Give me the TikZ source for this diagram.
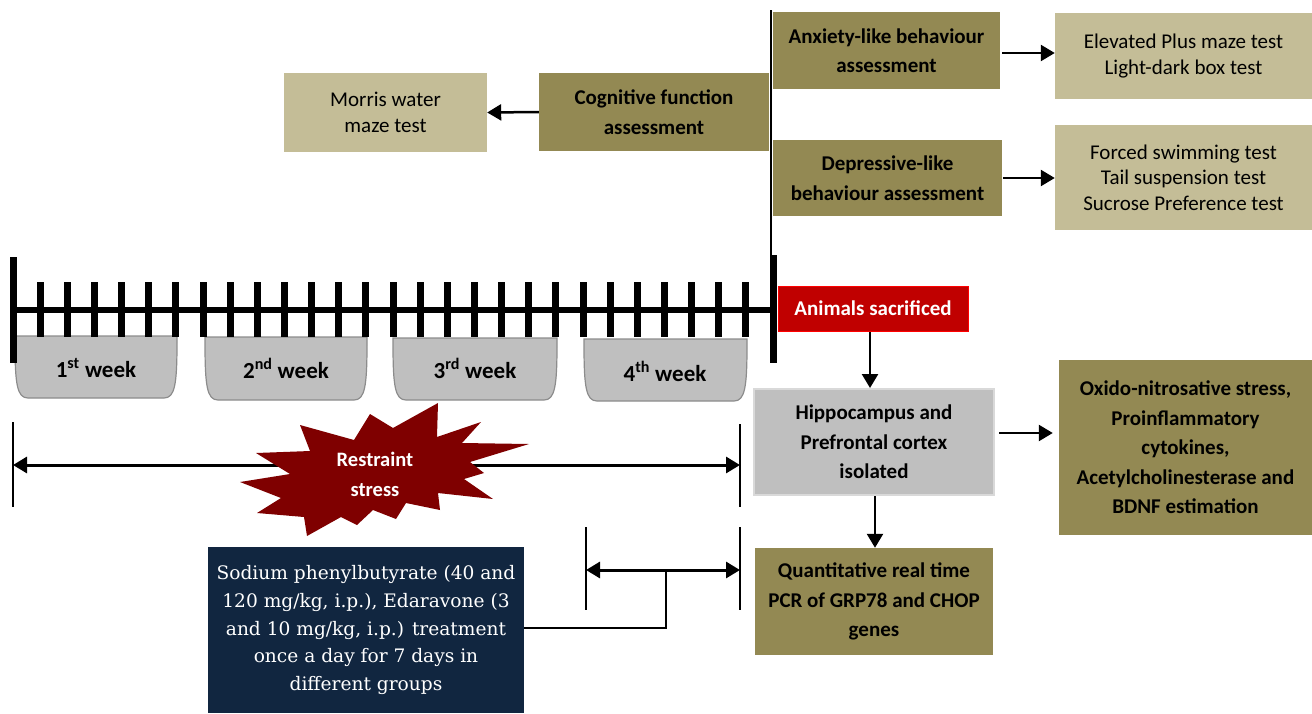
\documentclass[tikz,border=0pt]{standalone}
\usepackage{fontspec}
\setmainfont{Carlito}
\newfontfamily\serifx{DejaVu Serif}
\usetikzlibrary{arrows.meta,calc}
\definecolor{olivec}{RGB}{147,137,83}
\definecolor{tanc}{RGB}{196,189,151}
\definecolor{grayc}{RGB}{191,191,191}
\definecolor{grayline}{RGB}{140,140,140}
\definecolor{lightline}{RGB}{217,217,217}
\definecolor{redc}{RGB}{192,0,0}
\definecolor{starc}{RGB}{127,0,0}
\definecolor{navyc}{RGB}{17,38,64}
\newcommand\wkbox[4]{\path[weekshape] (#1,#3) -- (#1,#3+6) .. controls (#1,#4-14) and (#1+2,#4) .. (#1+13,#4) -- (#2-13,#4) .. controls (#2-2,#4) and (#2,#4-14) .. (#2,#3+6) -- (#2,#3) -- cycle;}
\begin{document}
\begin{tikzpicture}[x=1pt,y=-1pt,
  box/.style={inner sep=0pt, align=center, text=black},
  olivebox/.style={box, fill=olivec, font=\bfseries\fontsize{21}{29.5}\selectfont},
  tanbox/.style={box, fill=tanc, font=\fontsize{21}{25.5}\selectfont},
  weekshape/.style={fill=grayc, draw=grayline, line width=1.2pt},
  wklabel/.style={font=\bfseries\fontsize{23}{26}\selectfont, inner sep=0pt},
  arr/.style={line width=2.5pt, -{Triangle[length=14pt,width=16pt]}},
  dblarr/.style={line width=3pt, {Triangle[length=14pt,width=16pt]}-{Triangle[length=14pt,width=16pt]}},
  thin/.style={line width=1.5pt},
  tl/.style={line width=6pt},
  tickl/.style={line width=7pt},
]
\useasboundingbox (0,0) rectangle (1312,713);

% week boxes
\wkbox{15}{177}{336}{398}
\wkbox{205}{367}{337}{400}
\wkbox{393}{557}{338}{400}
\wkbox{584}{747}{339}{401}
\node[wklabel] (w1) at (96,368) {1\textsuperscript{st} week};
\node[wklabel] (w2) at (286,368) {2\textsuperscript{nd} week};
\node[wklabel] (w3) at (475,368) {3\textsuperscript{rd} week};
\node[wklabel] (w4) at (665,371) {4\textsuperscript{th} week};

% timeline
\coordinate (t0) at (13,310);
\coordinate (t1) at (773,310);
\draw[tl] (t0) -- (t1);
\foreach \k in {1,...,27} \draw[tickl] ({13+27.143*\k},282) -- ({13+27.143*\k},337);
\draw[tickl] (13,257) -- (13,363);
\draw[tickl] (773,255) -- (773,363);

% vertical line on top
\coordinate (vtop) at (771,10);
\coordinate (vbot) at (771,258);
\draw[thin] (vtop) -- (vbot);

% top boxes
\node[olivebox, minimum width=227, minimum height=77] (anx) at (886.5,50.5) {Anxiety-like behaviour\\assessment};
\node[tanbox, minimum width=257, minimum height=86] (elev) at (1183.5,56) {Elevated Plus maze test\\Light-dark box test};
\node[olivebox, minimum width=229, minimum height=76] (dep) at (887.5,178) {Depressive-like\\behaviour assessment};
\node[tanbox, minimum width=257, minimum height=105] (forc) at (1183.5,177.5) {Forced swimming test\\Tail suspension test\\Sucrose Preference test};
\node[olivebox, minimum width=230, minimum height=78] (cog) at (654,112) {Cognitive function\\assessment};
\node[tanbox, minimum width=203, minimum height=79] (mor) at (385.5,112.5) {Morris water\\maze test};

\draw[arr] (anx.east) ++(2,2.5) coordinate (a1) -- (a1 -| elev.west);
\draw[arr] (dep.east) ++(1,0) coordinate (a2) -- (a2 -| forc.west);
\draw[arr] (cog.west) -- (mor.east);

% right lower part
\node[box, fill=redc, draw=red, line width=0.8pt, text=white, font=\bfseries\fontsize{21}{24}\selectfont, minimum width=190, minimum height=45] (sac) at (873,308.5) {Animals sacrificed};
\node[box, fill=grayc, draw=lightline, line width=2pt, font=\bfseries\fontsize{21}{29.5}\selectfont, minimum width=240, minimum height=106] (hip) at (874,442) {Hippocampus and\\Prefrontal cortex\\isolated};
\node[olivebox, minimum width=253, minimum height=175] (oxi) at (1185.5,447.5) {Oxido-nitrosative stress,\\Proinflammatory\\cytokines,\\Acetylcholinesterase and\\BDNF estimation};
\node[olivebox, minimum width=238, minimum height=107] (qpcr) at (874,601.5) {Quantitative real time\\PCR of GRP78 and CHOP\\genes};

\draw[arr] (870,332) coordinate (s1) -- (s1 |- hip.north);
\draw[arr] ($(hip.east)+(4,-9)$) coordinate (h1) -- ($(h1 -| oxi.west)+(-6,0)$);
\draw[arr] (875,496) coordinate (h2) -- (h2 |- qpcr.north);

% restraint stress
\coordinate (rl) at (13,465);
\coordinate (rr) at (740,465);
\draw[thin] (13,422) -- (13,507);
\draw[thin] (740,424) -- (740,507);
\draw[dblarr] (rl) -- (rr);
\fill[starc] (438,403) -- (437,437) -- (481,422) -- (462,443) -- (529,444) -- (470,462) -- (484,473) -- (464,479) -- (493,499) -- (438,493) -- (440,510) -- (406,503) -- (396,519) -- (373,510) -- (357,525) -- (341,517) -- (307,536) -- (304,517) -- (257,513) -- (281,498) -- (240,482) -- (290,474) -- (256,453) -- (310,451) -- (300,425) -- (354,440) -- (370,414) -- (393,428) -- cycle;
\node[inner sep=0pt, align=center, text=white, font=\bfseries\fontsize{20.5}{30}\selectfont] (rs) at (375,474) {Restraint\\stress};

% treatment
\coordinate (ql) at (586,570);
\coordinate (qr) at (740,570);
\draw[thin] (586,527) -- (586,610);
\draw[thin] (740,527) -- (740,610);
\draw[dblarr] (ql) -- (qr);
\node[box, fill=navyc, text=white, font=\serifx\fontsize{18.6}{27.75}\selectfont, minimum width=316, minimum height=166] (tr) at (366,630) {Sodium phenylbutyrate (40 and\\120 mg/kg, i.p.), Edaravone (3\\and 10 mg/kg, i.p.) treatment\\once a day for 7 days in\\different groups};
\coordinate (j) at (666,570);
\draw[thin] (tr.east |- 0,628) -- (666,628) -- (j);
\end{tikzpicture}
\end{document}
